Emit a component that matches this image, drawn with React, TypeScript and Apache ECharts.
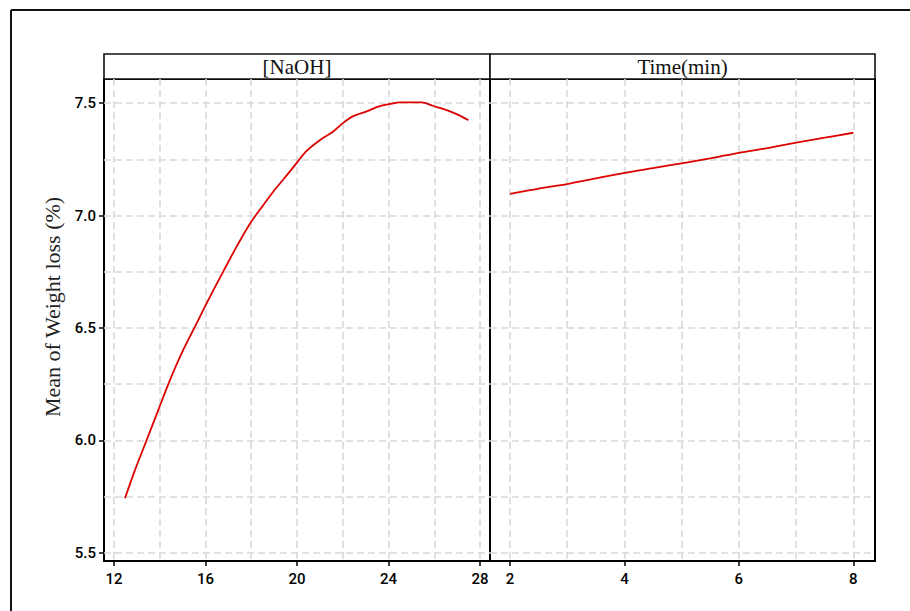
import React, { useEffect, useRef } from "react";
import * as echarts from "echarts";

const naohX = [12.48, 12.92, 13.43, 13.94, 14.45, 14.96, 15.54, 16.12, 16.78, 17.36, 17.95, 18.53, 18.96, 19.4, 19.84, 20.42, 21.01, 21.59, 22.02, 22.46, 23.05, 23.55, 24.07, 24.5, 25.45, 25.96, 26.54, 26.98, 27.49];
const naohY = [5.743, 5.869, 6.002, 6.136, 6.269, 6.388, 6.506, 6.624, 6.752, 6.862, 6.965, 7.047, 7.106, 7.16, 7.215, 7.287, 7.336, 7.374, 7.412, 7.442, 7.463, 7.484, 7.496, 7.503, 7.503, 7.487, 7.469, 7.451, 7.424];

const timeX = [2, 2.5, 3, 3.5, 4, 4.5, 5, 5.5, 6, 6.5, 7, 7.5, 8];
const timeY = [7.096, 7.12, 7.14, 7.165, 7.19, 7.211, 7.232, 7.254, 7.279, 7.3, 7.324, 7.346, 7.368];

const yTickLabels = [5.5, 6.0, 6.5, 7.0, 7.5];
const yGridValues = [5.5, 5.75, 6.0, 6.25, 6.5, 6.75, 7.0, 7.25, 7.5];
const naohTickLabels = [12, 16, 20, 24, 28];
const naohGridValues = [12, 14, 16, 18, 20, 22, 24, 26, 28];
const timeTickLabels = [2, 4, 6, 8];
const timeGridValues = [2, 3, 4, 5, 6, 7, 8];

const panelTitles = ["[NaOH]", "Time(min)"];
const yTitle = "Mean of Weight loss (%)";

const Y_MIN = 5.464;
const Y_MAX = 7.607;

const labelFont = { fontFamily: "Roboto, 'Open Sans', sans-serif", fontSize: 15, fontWeight: 500, color: "#000" };
const gridLineStyle = { color: "#d9d9d9", width: 1.6, type: [7, 4] as number[] };
const tickStyle = { color: "#000", width: 1.5 };

function labelAxisX(grid: number, min: number, max: number, labels: number[]) {
  return {
    type: "value", gridIndex: grid, position: "bottom", min, max,
    axisLine: { show: false, onZero: false },
    axisTick: { show: true, length: 5, lineStyle: tickStyle, customValues: labels },
    axisLabel: { ...labelFont, margin: 10, customValues: labels, formatter: (v: number) => String(v) },
    splitLine: { show: false },
  };
}
function gridAxisX(grid: number, min: number, max: number, values: number[]) {
  return {
    type: "value", gridIndex: grid, position: "top", min, max,
    axisLine: { show: false, onZero: false },
    axisTick: { show: false, customValues: values },
    axisLabel: { show: false },
    splitLine: { show: true, lineStyle: gridLineStyle },
  };
}

export default function App() {
  const ref = useRef<HTMLDivElement>(null);
  useEffect(() => {
    if (!ref.current) return;
    const chart = echarts.init(ref.current, null, { renderer: "svg" });
    const option: any = {
      animation: false,
      backgroundColor: "#fff",
      grid: [
        { left: 104, top: 79, width: 386, height: 482, show: true, borderColor: "#000", borderWidth: 2, backgroundColor: "transparent", containLabel: false, outerBoundsMode: "none" },
        { left: 490, top: 79, width: 385, height: 482, show: true, borderColor: "#000", borderWidth: 2, backgroundColor: "transparent", containLabel: false, outerBoundsMode: "none" },
      ],
      xAxis: [
        labelAxisX(0, 11.563, 28.437, naohTickLabels),
        gridAxisX(0, 11.563, 28.437, naohGridValues),
        labelAxisX(1, 1.65, 8.379, timeTickLabels),
        gridAxisX(1, 1.65, 8.379, timeGridValues),
      ],
      yAxis: [
        {
          type: "value", gridIndex: 0, position: "left", min: Y_MIN, max: Y_MAX,
          axisLine: { show: false, onZero: false },
          axisTick: { show: true, length: 5, lineStyle: tickStyle, customValues: yTickLabels },
          axisLabel: { ...labelFont, margin: 8, customValues: yTickLabels, formatter: (v: number) => v.toFixed(1) },
          splitLine: { show: false },
        },
        {
          type: "value", gridIndex: 0, position: "right", min: Y_MIN, max: Y_MAX,
          axisLine: { show: false, onZero: false },
          axisTick: { show: false, customValues: yGridValues },
          axisLabel: { show: false },
          splitLine: { show: true, lineStyle: gridLineStyle },
        },
        {
          type: "value", gridIndex: 1, position: "left", min: Y_MIN, max: Y_MAX,
          axisLine: { show: false, onZero: false },
          axisTick: { show: false, customValues: yGridValues },
          axisLabel: { show: false },
          splitLine: { show: true, lineStyle: gridLineStyle },
        },
      ],
      series: [
        {
          type: "line", xAxisIndex: 0, yAxisIndex: 0, showSymbol: false, smooth: 0.3,
          lineStyle: { color: "#dd0000", width: 1.8 },
          data: naohX.map((x, i) => [x, naohY[i]]),
          z: 5,
        },
        {
          type: "line", xAxisIndex: 2, yAxisIndex: 2, showSymbol: false, smooth: 0.3,
          lineStyle: { color: "#dd0000", width: 1.8 },
          data: timeX.map((x, i) => [x, timeY[i]]),
          z: 5,
        },
      ],
      graphic: [
        { type: "line", shape: { x1: 11, y1: 10, x2: 910, y2: 10 }, style: { stroke: "#111", lineWidth: 2 } },
        { type: "line", shape: { x1: 11, y1: 10, x2: 11, y2: 611 }, style: { stroke: "#111", lineWidth: 2 } },
        { type: "rect", shape: { x: 104, y: 54, width: 386, height: 25 }, style: { fill: "#fff", stroke: "#111", lineWidth: 1.6 } },
        { type: "rect", shape: { x: 490, y: 54, width: 385, height: 25 }, style: { fill: "#fff", stroke: "#111", lineWidth: 1.6 } },
        {
          type: "text", x: 297, y: 67,
          style: { text: panelTitles[0], fontFamily: "'Liberation Serif', 'Times New Roman', serif", fontSize: 21, fill: "#111", textAlign: "center", textVerticalAlign: "middle" },
        },
        {
          type: "text", x: 682.5, y: 67,
          style: { text: panelTitles[1], fontFamily: "'Liberation Serif', 'Times New Roman', serif", fontSize: 21, fill: "#111", textAlign: "center", textVerticalAlign: "middle" },
        },
        {
          type: "text", x: 52, y: 307, rotation: Math.PI / 2,
          style: { text: yTitle, fontFamily: "'Liberation Serif', 'Times New Roman', serif", fontSize: 22, fill: "#222", textAlign: "center", textVerticalAlign: "middle" },
        },
      ],
    };
    chart.setOption(option);
    return () => chart.dispose();
  }, []);
  return <div ref={ref} style={{ position: "absolute", left: 0, top: 0, width: 910, height: 611 }} />;
}
